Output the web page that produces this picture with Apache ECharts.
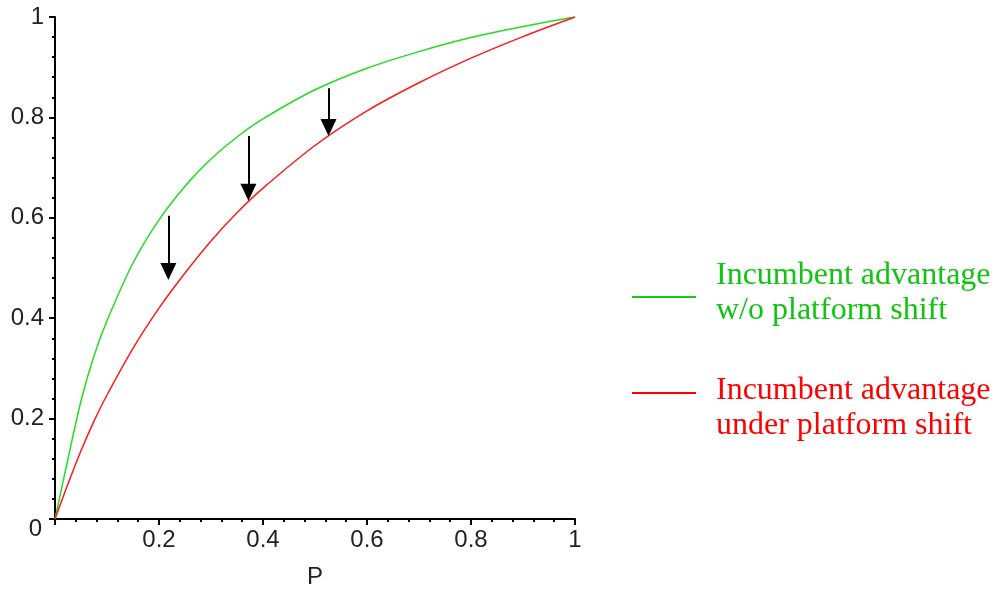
<!DOCTYPE html>
<html><head><meta charset="utf-8">
<script src="https://cdn.jsdelivr.net/npm/echarts@6/dist/echarts.min.js"></script>
<style>html,body{margin:0;padding:0;background:#fff}#c{width:999px;height:594px}</style>
</head><body><div id="c"></div>
<script>
var pValues = [0,0.025,0.05,0.075,0.1,0.15,0.2,0.25,0.3,0.35,0.4,0.5,0.6,0.7,0.8,0.9,1];
var greenValues = [0,0.12,0.235,0.325,0.395,0.51,0.596,0.663,0.717,0.761,0.797,0.855,0.898,0.931,0.959,0.981,1];
var redValues = [0,0.07,0.136,0.195,0.247,0.34,0.42,0.49,0.554,0.61,0.659,0.744,0.813,0.869,0.918,0.961,1];
var arrowX = [0.218, 0.372, 0.526];
var arrowFrom = [0.604, 0.763, 0.858];
var arrowTip = [0.476, 0.634, 0.763];
var legendLines1 = ['Incumbent advantage', 'w/o platform shift'];
var legendLines2 = ['Incumbent advantage', 'under platform shift'];

var plotTop = 17, plotBottom = 75, H = 594;
var headW = 16, headH = 17;
var headOffset = (headH / 2) / (H - plotTop - plotBottom);

function pairs(xs, ys){ return xs.map(function(x,i){ return [x, ys[i]]; }); }
var arrowData = arrowX.map(function(x,i){
  return [{coord:[x, arrowFrom[i]]},{coord:[x, arrowTip[i] + headOffset]}];
});

var axisFont = {fontFamily:'Liberation Sans, Arial, sans-serif', fontSize:24, color:'#222'};
var chart = echarts.init(document.getElementById('c'), null, {renderer:'canvas'});
var legendFont = 'Liberation Serif, Times New Roman, serif';
var green = '#22dd22', red = '#ff1a1a';
chart.setOption({
  animation:false,
  backgroundColor:'#fff',
  grid:{left:55, right:424, top:plotTop, bottom:plotBottom, containLabel:false},
  xAxis:{type:'value', min:0, max:1, interval:0.2,
    name:'P', nameLocation:'middle', nameGap:46,
    nameTextStyle:axisFont,
    axisLine:{show:true, lineStyle:{color:'#000', width:2}},
    axisTick:{show:true, length:6, lineStyle:{color:'#000', width:2}},
    minorTick:{show:true, splitNumber:5, length:3, lineStyle:{color:'#000', width:2}},
    splitLine:{show:false},
    axisLabel:Object.assign({margin:9, formatter:function(v){ return v===0 ? '' : String(+v.toFixed(2)); }}, axisFont)
  },
  yAxis:{type:'value', min:0, max:1, interval:0.2,
    axisLine:{show:true, lineStyle:{color:'#000', width:2}},
    axisTick:{show:true, length:6, lineStyle:{color:'#000', width:2}},
    minorTick:{show:true, splitNumber:5, length:3, lineStyle:{color:'#000', width:2}},
    splitLine:{show:false},
    axisLabel:Object.assign({margin:11,
      formatter:function(v){ return v===0 ? '{z|0}' : String(+v.toFixed(2)); },
      rich:{z:{fontFamily:axisFont.fontFamily, fontSize:24, color:'#222', padding:[20,2,0,0]}}
    }, axisFont)
  },
  series:[
    {type:'line', data:pairs(pValues, greenValues), showSymbol:false, smooth:0.3,
      lineStyle:{color:green, width:1.5}, silent:true},
    {type:'line', data:pairs(pValues, redValues), showSymbol:false, smooth:0.3,
      lineStyle:{color:red, width:1.5}, silent:true,
      markLine:{silent:true, symbol:['none','triangle'], symbolSize:[headW, headH],
        label:{show:false}, emphasis:{disabled:true},
        lineStyle:{color:'#000', width:2, type:'solid'},
        data:arrowData}
    }
  ],
  graphic:[
    {type:'line', shape:{x1:632, y1:297, x2:696, y2:297}, style:{stroke:'#11cc11', lineWidth:2}},
    {type:'text', x:716, y:276, style:{text:legendLines1[0], fill:'#11c411', font:'32px '+legendFont, verticalAlign:'middle'}},
    {type:'text', x:716, y:311, style:{text:legendLines1[1], fill:'#11c411', font:'32px '+legendFont, verticalAlign:'middle'}},
    {type:'line', shape:{x1:632, y1:393, x2:696, y2:393}, style:{stroke:'#ff0000', lineWidth:2}},
    {type:'text', x:716, y:391, style:{text:legendLines2[0], fill:'#ff0000', font:'32px '+legendFont, verticalAlign:'middle'}},
    {type:'text', x:716, y:426, style:{text:legendLines2[1], fill:'#ff0000', font:'32px '+legendFont, verticalAlign:'middle'}}
  ]
});
</script></body></html>
